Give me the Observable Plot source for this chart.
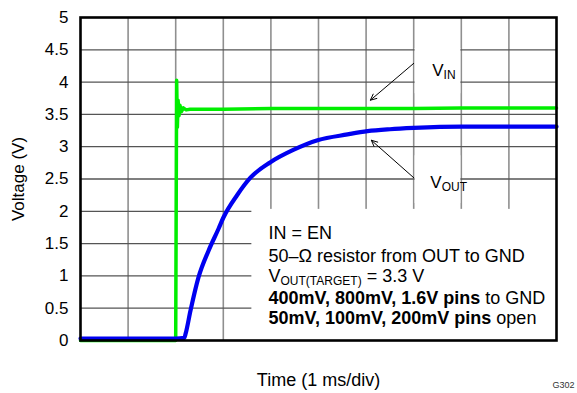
<!DOCTYPE html>
<html><head><meta charset="utf-8">
<script src="https://cdn.jsdelivr.net/npm/d3@7"></script>
<script src="https://cdn.jsdelivr.net/npm/@observablehq/plot@0.6"></script>
<style>html,body{margin:0;padding:0;background:#fff}</style>
</head><body><div id="chart"></div>
<script>
// ---- data ----
const yTicks = [0, 0.5, 1, 1.5, 2, 2.5, 3, 3.5, 4, 4.5, 5];
const xGrid = [1, 2, 3, 4, 5, 6, 7, 8, 9];
const yGrid = [0.5, 1, 1.5, 2, 2.5, 3, 3.5, 4, 4.5];

// V_IN (green) time in ms, voltage in V
const vinT = [0, 2.0, 2.02, 2.035, 2.05, 2.07, 2.09, 2.12, 2.16, 2.22, 2.3, 2.5, 3, 4, 5, 6, 7, 8, 9, 10];
const vinV = [0, 0, 4.03, 3.3, 3.72, 3.48, 3.64, 3.54, 3.6, 3.57, 3.58, 3.58, 3.58, 3.59, 3.59, 3.59, 3.59, 3.6, 3.6, 3.6];

// V_OUT (blue)
const voutT = [0, 1.0, 2.0, 2.18, 2.21, 2.31, 2.48, 2.69, 2.9, 3.0, 3.3, 3.57, 3.99, 4.47, 4.98, 5.61, 6.03, 6.5, 7.0, 8.0, 9.0, 10.0];
const voutV = [0.03, 0.03, 0.03, 0.04, 0.11, 0.46, 0.98, 1.39, 1.73, 1.9, 2.26, 2.52, 2.76, 2.95, 3.1, 3.19, 3.24, 3.27, 3.29, 3.31, 3.31, 3.31];

// annotation boxes (data units)
const boxX1 = [3.6, 7.03, 7.03];
const boxX2 = [10, 7.99, 7.99];
const boxY1 = [0, 3.82, 2.12];
const boxY2 = [2.03, 4.52, 2.86];

// arrows
const arrowX1 = [7.0, 7.0];
const arrowY1 = [4.29, 2.52];
const arrowX2 = [6.09, 6.11];
const arrowY2 = [3.72, 3.1];

// series labels (rich segments)
const seriesLabels = [
  [["V", "n"], ["IN", "sub"]],
  [["V", "n"], ["OUT", "sub"]]
];
const seriesLabelX = [7.39, 7.35];
const seriesLabelY = [4.18, 2.45];

// note lines
const noteLines = [
  [["IN = EN", "n"]],
  [["50–Ω resistor from OUT to GND", "n"]],
  [["V", "n"], ["OUT(TARGET)", "sub"], [" = 3.3 V", "n"]],
  [["400mV, 800mV, 1.6V pins", "b"], [" to GND", "n"]],
  [["50mV, 100mV, 200mV pins", "b"], [" open", "n"]]
];
const noteX = 3.95;
const noteY = [1.66, 1.31, 1.0, 0.66, 0.34];

const xLabel = "Time (1 ms/div)";
const yLabel = "Voltage (V)";
const figId = "G302";

// ---- build ----
const vin = vinT.map((t, i) => ({t, v: vinV[i]}));
const vout = voutT.map((t, i) => ({t, v: voutV[i]}));
const boxes = boxX1.map((x1, i) => ({x1, x2: boxX2[i], y1: boxY1[i], y2: boxY2[i]}));
const arrows = arrowX1.map((x1, i) => ({x1, y1: arrowY1[i], x2: arrowX2[i], y2: arrowY2[i]}));
const plain = segs => segs.map(s => s[0]).join("");
const sLabels = seriesLabels.map((s, i) => ({x: seriesLabelX[i], y: seriesLabelY[i], text: plain(s)}));
const notes = noteLines.map((s, i) => ({x: noteX, y: noteY[i], text: plain(s)}));

const FONT = "Arial, 'Liberation Sans', Helvetica, sans-serif";

const svg = Plot.plot({
  width: 577, height: 393,
  marginLeft: 80, marginRight: 21, marginTop: 17, marginBottom: 53,
  style: {fontFamily: FONT, fontSize: "17px", background: "white", color: "black", overflow: "hidden"},
  x: {domain: [0, 10], axis: null},
  y: {domain: [0, 5], axis: null},
  marks: [
    Plot.ruleX(xGrid, {x: d => d, stroke: "#8f8f8f", strokeWidth: 1.6}),
    Plot.ruleY(yGrid, {y: d => d, stroke: "#555", strokeWidth: 1.3}),
    Plot.rect(boxes, {x1: "x1", x2: "x2", y1: "y1", y2: "y2", fill: "white"}),
    Plot.line(vin, {x: "t", y: "v", stroke: "#00ee00", strokeWidth: 3.5, curve: "linear"}),
    Plot.line(vout, {x: "t", y: "v", stroke: "#0000f0", strokeWidth: 4.2, curve: "monotone-x"}),
    Plot.arrow(arrows, {x1: "x1", y1: "y1", x2: "x2", y2: "y2", stroke: "black", strokeWidth: 1, headLength: 10, headAngle: 50}),
    Plot.text(sLabels, {x: "x", y: "y", text: "text", textAnchor: "start", fontSize: 17, fill: "black"}),
    Plot.text(notes, {x: "x", y: "y", text: "text", textAnchor: "start", fontSize: 18, fill: "black"}),
    Plot.text(yTicks, {y: d => d, text: d => String(d), frameAnchor: "left", textAnchor: "end", dx: -12, fontSize: 17, fill: "black"}),
    Plot.text([yLabel], {frameAnchor: "left", textAnchor: "middle", dx: -62, rotate: -90, fontSize: 17, fill: "black"}),
    Plot.text([xLabel], {frameAnchor: "bottom", lineAnchor: "middle", dy: 40, fontSize: 18, fill: "black"}),
    Plot.text([figId], {frameAnchor: "bottom-right", lineAnchor: "middle", dx: -4, dy: 45, textAnchor: "start", fontSize: 9, fill: "#333"}),
    Plot.frame({stroke: "black", strokeWidth: 2.6})
  ]
});

// rich text (bold / subscripts)
function applyRich(root, lineSets) {
  const map = new Map(lineSets.map(segs => [plain(segs), segs]));
  root.querySelectorAll("text").forEach(t => {
    const segs = map.get(t.textContent);
    if (!segs || segs.length < 2) return;
    while (t.firstChild) t.removeChild(t.firstChild);
    let shifted = 0;
    segs.forEach(([txt, kind]) => {
      const ts = document.createElementNS("http://www.w3.org/2000/svg", "tspan");
      ts.textContent = txt;
      if (kind === "b") ts.setAttribute("font-weight", "bold");
      if (kind === "sub") { ts.setAttribute("font-size", 12); ts.setAttribute("dy", 3.5); shifted = 3.5; }
      else if (shifted) { ts.setAttribute("dy", -shifted); shifted = 0; }
      t.appendChild(ts);
    });
    t.setAttribute("style", "white-space: pre");
  });
}
applyRich(svg, seriesLabels.concat(noteLines));

document.getElementById("chart").appendChild(svg);
</script>
</body></html>
